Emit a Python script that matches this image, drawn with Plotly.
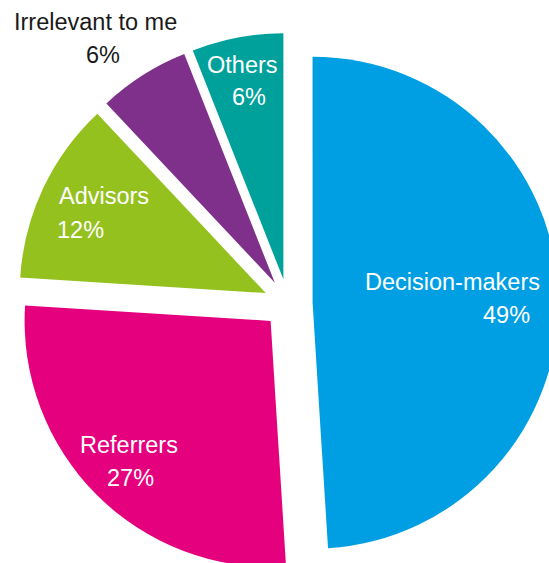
import plotly.graph_objects as go

# Survey shares by role
labels = ["Decision-makers", "Referrers", "Advisors", "Irrelevant to me", "Others"]
values = [49, 27, 12, 6, 6]
colors = ["#009FE3", "#E5007E", "#95C11F", "#7E308A", "#00A19A"]
text_colors = ["white", "white", "white", "#1a1a1a", "white"]

# Canvas in pixels; the pie is a little larger than the visible area so its
# right and bottom edges run off the page.
W, H = 559, 575
CX, CY = 288.0, 303.5       # pie centre (px)
R = 246.0                   # slice radius (px)
PULL = 0.1                  # every slice pushed out by 10 % of the radius
BOX = R * (1 + PULL)

# Label anchor points (px): name line and value line for each slice
name_pos = [(452.5, 281.5), (128.5, 445.0), (103.5, 195.5), (95.0, 22.5), (242.5, 65.0)]
value_pos = [(507.0, 315.0), (130.0, 478.0), (80.0, 229.5), (102.5, 55.0), (249.0, 96.5)]

FONT = "Liberation Sans, Arial, Helvetica, sans-serif"
FONT_SIZE = 23.5


def px_to_paper(x, y):
    return x / W, 1 - y / H


fig = go.Figure(
    go.Pie(
        labels=labels,
        values=values,
        sort=False,
        direction="clockwise",
        rotation=0,
        pull=[PULL] * len(values),
        marker=dict(colors=colors, line=dict(width=0)),
        textinfo="none",
        hoverinfo="label+percent",
        showlegend=False,
        domain=dict(
            x=[(CX - BOX) / W, (CX + BOX) / W],
            y=[1 - (CY + BOX) / H, 1 - (CY - BOX) / H],
        ),
    )
)

annotations = []
for lab, val, col, npos, vpos in zip(labels, values, text_colors, name_pos, value_pos):
    for txt, (x, y) in ((lab, npos), (f"{val}%", vpos)):
        px, py = px_to_paper(x, y)
        annotations.append(
            dict(
                text=txt,
                x=px,
                y=py,
                xref="paper",
                yref="paper",
                xanchor="center",
                yanchor="middle",
                showarrow=False,
                font=dict(family=FONT, size=FONT_SIZE, color=col),
            )
        )

fig.update_layout(
    width=W,
    height=H,
    autosize=False,
    margin=dict(l=0, r=0, t=0, b=0, pad=0),
    paper_bgcolor="white",
    plot_bgcolor="white",
    annotations=annotations,
)

fig.write_html("out.html")
